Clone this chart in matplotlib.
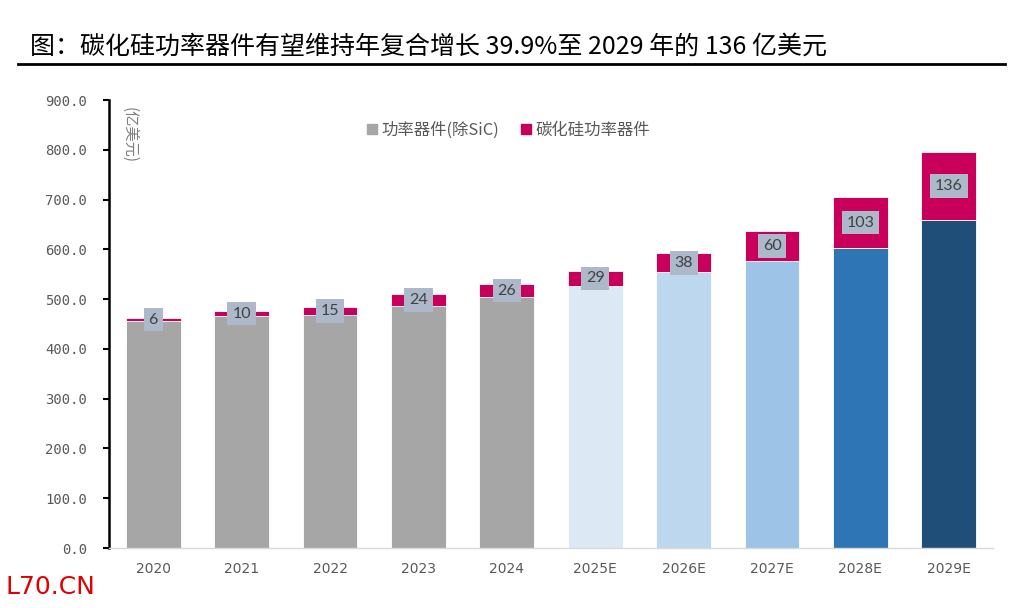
import matplotlib
matplotlib.use("Agg")
import matplotlib.pyplot as plt
from matplotlib.lines import Line2D

plt.rcParams['font.family'] = ['Noto Sans CJK SC', 'DejaVu Sans']

years = ["2020", "2021", "2022", "2023", "2024", "2025E", "2026E", "2027E", "2028E", "2029E"]
base_vals = [456, 466, 469, 486, 504, 527, 554, 577, 602, 659]
sic_vals = [6, 10, 15, 24, 26, 29, 38, 60, 103, 136]
base_colors = ["#a6a6a6"] * 5 + ["#dde8f5", "#bdd7ee", "#9dc3e6", "#2e75b6", "#1f4e79"]
sic_color = "#c9005b"
yticks = [0, 100, 200, 300, 400, 500, 600, 700, 800, 900]

title = "图：碳化硅功率器件有望维持年复合增长 39.9%至 2029 年的 136 亿美元"
legend_labels = ["功率器件(除SiC)", "碳化硅功率器件"]
unit_label = "(亿美元)"

fig = plt.figure(figsize=(10.24, 6.08), dpi=100)
ax_l, ax_r, ax_b, ax_t = 109, 993, 548, 100
ax = fig.add_axes([ax_l/1024, 1-ax_b/608, (ax_r-ax_l)/1024, (ax_b-ax_t)/608])

x = list(range(len(years)))
w = 0.62
ax.bar(x, base_vals, width=w, color=base_colors, edgecolor="white", linewidth=0.6, zorder=2)
ax.bar(x, sic_vals, width=w, bottom=base_vals, color=sic_color, edgecolor="white", linewidth=0.6, zorder=2)

for xi, b, s in zip(x, base_vals, sic_vals):
    ax.text(xi, b + s/2, str(s), ha="center", va="center", fontsize=11.5, color="#404040",
            family=["Lato", "DejaVu Sans"], zorder=4,
            bbox=dict(boxstyle="square,pad=0.3", facecolor="#adb9ca", edgecolor="none"))

ax.set_xlim(-0.5, 9.5)
ax.set_ylim(0, 900)
ax.set_yticks(yticks)
ax.set_yticklabels([f"{v:.1f}" for v in yticks], fontsize=10, color="#595959",
                   family=["DejaVu Sans Mono", "DejaVu Sans"])
ax.set_xticks(x)
ax.set_xticklabels(years, fontsize=10, color="#595959", family=["Liberation Sans Narrow", "DejaVu Sans"])
ax.tick_params(axis="x", length=0, pad=10)
ax.tick_params(axis="y", direction="out", length=4, width=1.5, color="black", pad=12)
for sp in ["top", "right"]:
    ax.spines[sp].set_visible(False)
ax.spines["left"].set_color("black")
ax.spines["left"].set_linewidth(1.8)
ax.spines["bottom"].set_color("#d9d9d9")
ax.spines["bottom"].set_linewidth(1.0)

ax.text((129-ax_l)/(ax_r-ax_l), (ax_b-107)/(ax_b-ax_t), unit_label, transform=ax.transAxes,
        rotation=-90, ha="center", va="top", fontsize=11, color="#7f7f7f")

handles = [Line2D([], [], marker="s", linestyle="none", markersize=7, color="#a6a6a6"),
           Line2D([], [], marker="s", linestyle="none", markersize=7, color=sic_color)]
ax.legend(handles, legend_labels, loc="center", bbox_to_anchor=((506-ax_l)/(ax_r-ax_l), (ax_b-130)/(ax_b-ax_t)),
          ncol=2, frameon=False, fontsize=11.8, handletextpad=0.0, columnspacing=1.0,
          handlelength=1.2, labelcolor="#595959")

fig.text(30/1024, 1-47/608, title, fontsize=18, ha="left", va="center", color="black")
fig.add_artist(Line2D([18/1024, 1005/1024], [1-64/608, 1-64/608], color="black", linewidth=2,
                      transform=fig.transFigure))
fig.text(5/1024, 1-587/608, "L70.CN", fontsize=18, color="#e00000", ha="left", va="center",
         family=["Liberation Sans Narrow", "DejaVu Sans"])

fig.savefig("out.png", dpi=100)
